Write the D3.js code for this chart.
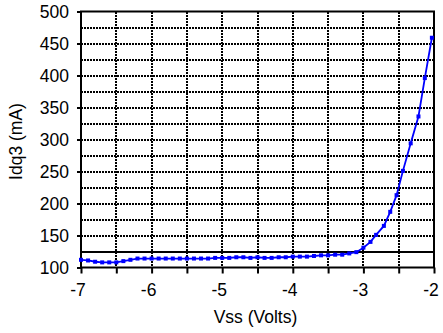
<!DOCTYPE html>
<html>
<head>
<meta charset="utf-8">
<script src="https://cdn.jsdelivr.net/npm/d3@7"></script>
<style>
  body { margin: 0; background: #fff; }
  text { font-family: "Liberation Sans", Arial, sans-serif; fill: #000; }
</style>
</head>
<body>
<div class="grafico"></div>
<script>
/*Datos*/
const vss = [-7.0, -6.9, -6.8, -6.7, -6.6, -6.5, -6.4, -6.3, -6.2, -6.1, -6.0,
  -5.9, -5.8, -5.7, -5.6, -5.5, -5.4, -5.3, -5.2, -5.1, -5.0,
  -4.9, -4.8, -4.7, -4.6, -4.5, -4.4, -4.3, -4.2, -4.1, -4.0,
  -3.9, -3.8, -3.7, -3.6, -3.5, -3.4, -3.3, -3.2, -3.1, -3.0,
  -2.9, -2.82, -2.71, -2.62, -2.53, -2.44, -2.33, -2.22, -2.13, -2.03];
const idq = [112, 111, 109, 108, 108, 108, 110, 112, 114, 114, 114,
  114, 114, 114, 114, 114, 114, 114, 114, 115, 115,
  115, 116, 116, 115, 116, 115, 115, 116, 116, 117,
  117, 117, 118, 119, 119, 120, 120, 122, 124, 131,
  140, 151, 165, 187, 213, 251, 294, 336, 396, 459];
const xTicks = [-7, -6, -5, -4, -3, -2];
const yTicks = [100, 150, 200, 250, 300, 350, 400, 450, 500];
const xGrid = d3.range(-6.5, -2, 0.5);
const yGrid = d3.range(125, 500, 25);

const w = 443, h = 333;
const mLeft = 81, mRight = 434, mTop = 11.5, mBottom = 267.5;

const xScale = d3.scaleLinear().domain([-7, -2]).range([mLeft, mRight]);
const yScale = d3.scaleLinear().domain([100, 500]).range([mBottom, mTop]);

const svg = d3.select('.grafico').append('svg')
  .attr('width', w).attr('height', h);

/*Grilla punteada*/
svg.append('g').selectAll('line').data(yGrid).enter().append('line')
  .attr('x1', mLeft).attr('x2', mRight)
  .attr('y1', d => yScale(d)).attr('y2', d => yScale(d))
  .attr('stroke', '#000').attr('stroke-width', 2)
  .attr('shape-rendering', 'crispEdges')
  .attr('stroke-dasharray', d => d === 125 ? null : '2,1');

svg.append('g').selectAll('line').data(xGrid).enter().append('line')
  .attr('x1', d => xScale(d)).attr('x2', d => xScale(d))
  .attr('y1', mTop).attr('y2', mBottom)
  .attr('stroke', '#000').attr('stroke-width', 2)
  .attr('shape-rendering', 'crispEdges')
  .attr('stroke-dasharray', '2,1');

/*Marco*/
svg.append('rect')
  .attr('x', mLeft).attr('y', mTop)
  .attr('width', mRight - mLeft).attr('height', mBottom - mTop)
  .attr('fill', 'none').attr('stroke', '#000').attr('stroke-width', 2);

/*Ejes*/
const xAxis = d3.axisBottom(xScale).tickValues(d3.range(-7, -1.9, 0.5))
  .tickSize(6).tickFormat(d => xTicks.includes(d) ? d : '');
const yAxis = d3.axisLeft(yScale).tickValues(yTicks).tickSize(4).tickPadding(8);

const gx = svg.append('g').attr('id', 'x-axis')
  .attr('transform', `translate(0,${mBottom})`).call(xAxis);
const gy = svg.append('g').attr('id', 'y-axis')
  .attr('transform', `translate(${mLeft},0)`).call(yAxis);

[gx, gy].forEach(g => {
  g.select('.domain').remove();
  g.selectAll('line').attr('stroke', '#000').attr('stroke-width', 2);
  g.selectAll('text').style('font-size', '17.5px')
    .style('font-family', '"Liberation Sans", Arial, sans-serif').attr('fill', '#000');
});
gx.selectAll('text').attr('y', 16).attr('dx', '-3.5');

/*Titulos de ejes*/
svg.append('text')
  .attr('x', (mLeft + mRight) / 2 - 2).attr('y', 323)
  .attr('text-anchor', 'middle').style('font-size', '17.5px')
  .text('Vss (Volts)');

svg.append('text')
  .attr('transform', `translate(22,${(mTop + mBottom) / 2 + 2}) rotate(-90)`)
  .attr('text-anchor', 'middle').style('font-size', '17.5px')
  .text('Idq3 (mA)');

/*Curva*/
const pts = vss.map((v, i) => [v, idq[i]]);
const line = d3.line().x(d => xScale(d[0])).y(d => yScale(d[1]));

svg.append('path').datum(pts)
  .attr('d', line).attr('fill', 'none')
  .attr('stroke', '#0000ff').attr('stroke-width', 1.8);

svg.selectAll('.pt').data(pts).enter().append('rect')
  .attr('class', 'pt')
  .attr('x', d => xScale(d[0]) - 2).attr('y', d => yScale(d[1]) - 2)
  .attr('width', 4).attr('height', 4)
  .attr('fill', '#0000ff');
</script>
</body>
</html>
